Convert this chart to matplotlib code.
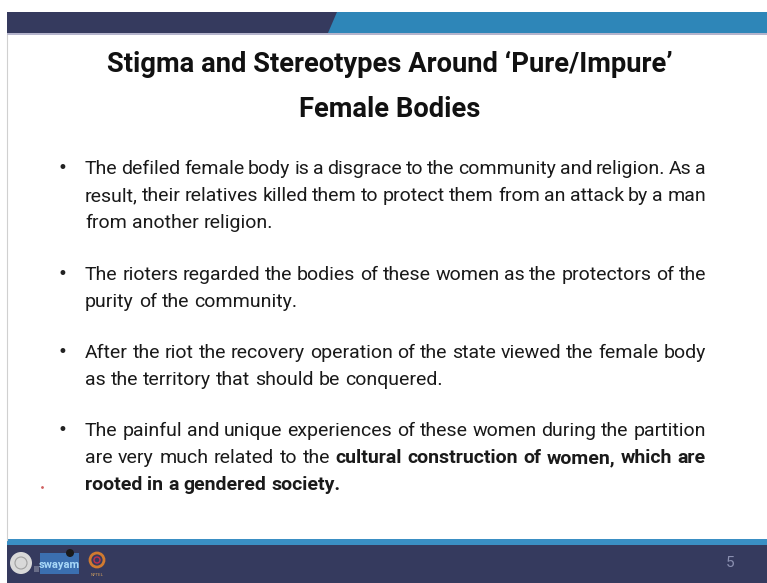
import matplotlib
matplotlib.use('Agg')
import matplotlib.pyplot as plt
from matplotlib.patches import Rectangle, Polygon, Circle

# slide content
title_lines = ["Stigma and Stereotypes Around \u2018Pure/Impure\u2019", "Female Bodies"]

# each paragraph: list of lines, each line: list of (text, bold)
para1 = [[("The defiled female body is a disgrace to the community and religion. As a", False)],
         [("result, their relatives killed them to protect them from an attack by a man", False)],
         [("from another religion.", False)]]
para2 = [[("The rioters regarded the bodies of these women as the protectors of the", False)],
         [("purity of the community.", False)]]
para3 = [[("After the riot the recovery operation of the state viewed the female body", False)],
         [("as the territory that should be conquered.", False)]]
para4 = [[("The painful and unique experiences of these women during the partition", False)],
         [("are very much related to the", False), ("cultural construction of women, which are", True)],
         [("rooted in a gendered society.", True)]]
paragraphs = [para1, para2, para3, para4]
baselines = [[174, 201, 228], [280, 307], [358, 385], [436, 463, 490]]
slide_no = "5"

W, H = 767, 583
navy = '#353a5e'
blue = '#2e86b8'
font = ['Liberation Sans Narrow', 'Roboto', 'DejaVu Sans']

fig = plt.figure(figsize=(W / 100, H / 100), dpi=100)
ax = fig.add_axes([0, 0, 1, 1])
ax.set_xlim(0, W)
ax.set_ylim(H, 0)
ax.axis('off')

# top band
ax.add_patch(Rectangle((7, 12), 330, 21, color=navy, lw=0))
ax.add_patch(Polygon([(337, 12), (W, 12), (W, 33), (328, 33)], closed=True, color=blue, lw=0))
ax.add_patch(Rectangle((7, 33), W, 2, color='#b4b4cc', lw=0))
# left border line
ax.plot([7, 7], [35, 540], color='#d0d0d0', lw=0.8)
# bottom band
ax.add_patch(Rectangle((7, 539), W, 6, color='#3a8fc4', lw=0))
ax.add_patch(Rectangle((7, 545), W, 40, color=navy, lw=0))

fig.canvas.draw()
renderer = fig.canvas.get_renderer()


def text_width(s, size, bold):
    t = ax.text(0, 0, s, fontsize=size, family=font,
                fontweight='bold' if bold else 'normal')
    bb = t.get_window_extent(renderer=renderer)
    t.remove()
    return bb.width


def words_of(line):
    out = []
    for seg, bold in line:
        for w in seg.split():
            out.append((w, bold))
    return out


# title, fitted to the reference width
title_size = 22.0
while text_width(title_lines[0], title_size, True) > 566 and title_size > 10:
    title_size -= 0.25
ax.text(390, 72, title_lines[0], fontsize=title_size, fontweight='bold', family=font,
        ha='center', va='baseline', color='#111111')
ax.text(390, 117, title_lines[1], fontsize=title_size, fontweight='bold', family=font,
        ha='center', va='baseline', color='#111111')

x_left, x_right = 85, 706

# body font size: biggest that lets every justified line fit with slightly tight spaces
body_size = 17.0
while body_size > 8:
    sp = text_width("a a", body_size, False) - 2 * text_width("a", body_size, False)
    widest = 0
    for para in paragraphs:
        for line in para[:-1]:
            ws = words_of(line)
            w = sum(text_width(t, body_size, b) for t, b in ws) + (len(ws) - 1) * sp * 0.75
            widest = max(widest, w)
    if widest <= (x_right - x_left):
        break
    body_size -= 0.25

space_w = text_width("a a", body_size, False) - 2 * text_width("a", body_size, False)

for para, ys in zip(paragraphs, baselines):
    ax.text(62, ys[0] - 6, "\u2022", fontsize=12, family='DejaVu Sans',
            ha='center', va='center', color='#222222')
    for i, (line, y) in enumerate(zip(para, ys)):
        words = words_of(line)
        widths = [text_width(w, body_size, b) for w, b in words]
        last = i == len(para) - 1
        if last or len(words) < 2:
            gap = space_w
        else:
            gap = (x_right - x_left - sum(widths)) / (len(words) - 1)
        x = x_left
        for (w, b), wd in zip(words, widths):
            ax.text(x, y, w, fontsize=body_size, family=font,
                    fontweight='bold' if b else 'normal',
                    ha='left', va='baseline', color='#1a1a1a')
            x += wd + gap

# small red mark
ax.plot([42], [487], marker='.', ms=2, color='#d06060')

# footer logos
ax.add_patch(Circle((21, 563), 11, color='#d9d9d9', lw=0))
ax.add_patch(Circle((21, 563), 6, fill=False, ec='#a0a0a0', lw=0.8))
ax.add_patch(Rectangle((34, 566), 5, 6, color='#6a6e88', lw=0))
ax.add_patch(Rectangle((40, 553), 39, 21, color='#3b6fb0', lw=0))
ax.text(59.5, 565, "swayam", fontsize=8, family=font, color='#a8d8f8',
        ha='center', va='center', fontweight='bold')
ax.add_patch(Circle((70, 553), 4, color='#1a1a1a', lw=0))
ax.add_patch(Circle((97, 560), 7, fill=False, ec='#d07a30', lw=2))
ax.add_patch(Circle((97, 560), 3, fill=False, ec='#c03050', lw=1))
ax.text(97, 575, "NPTEL", fontsize=3, color='#d0a060', ha='center', va='center')

# slide number
ax.text(730, 563, slide_no, fontsize=11, family=font, color='#8a8fb0',
        ha='center', va='center')

fig.savefig('out.png', dpi=100)
